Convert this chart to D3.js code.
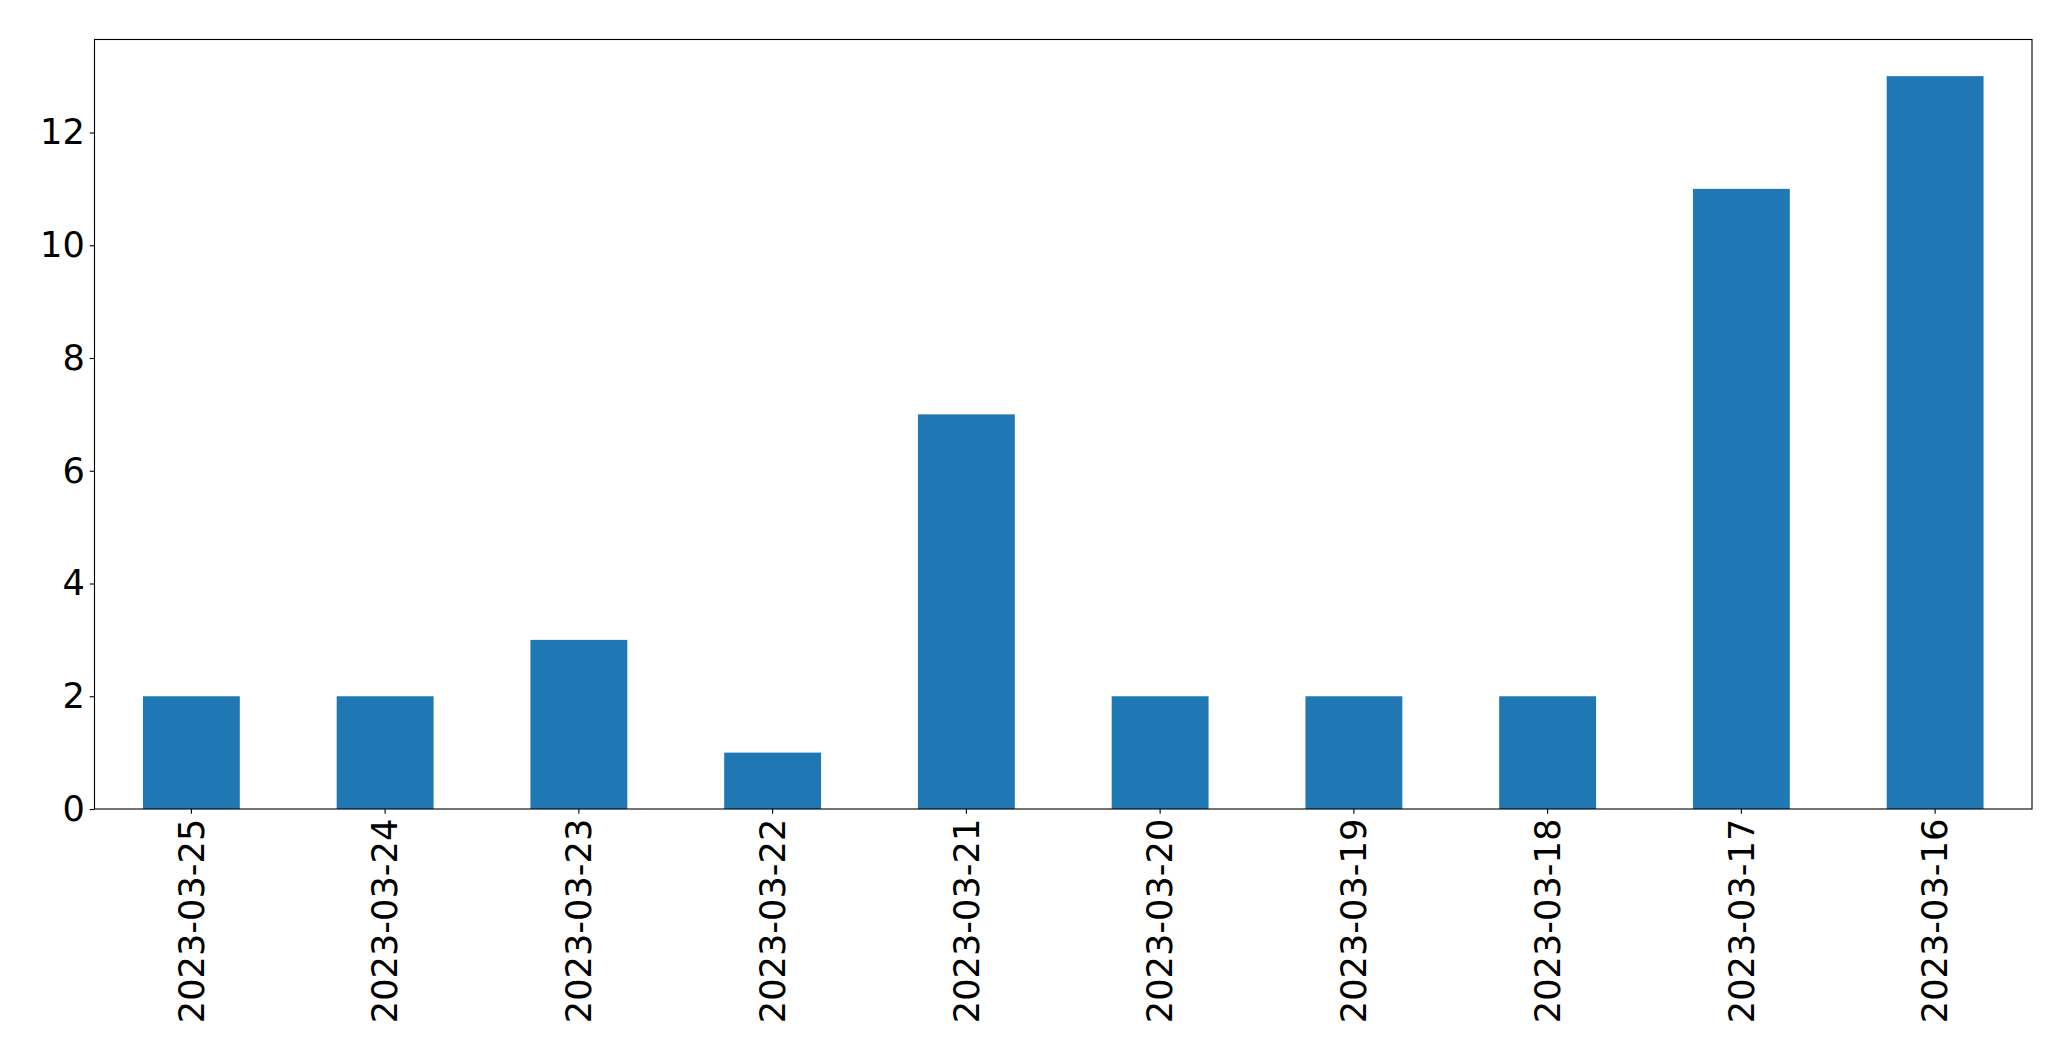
<!DOCTYPE html>
<html>
<head>
<meta charset="utf-8">
<script src="https://cdn.jsdelivr.net/npm/d3@7/dist/d3.min.js"></script>
<style>
  html, body { margin: 0; padding: 0; background: #fff; }
  svg { display: block; }
</style>
</head>
<body>
<script>
const categories = ["2023-03-25","2023-03-24","2023-03-23","2023-03-22","2023-03-21","2023-03-20","2023-03-19","2023-03-18","2023-03-17","2023-03-16"];
const values = [2, 2, 3, 1, 7, 2, 2, 2, 11, 13];
const yTicks = [0, 2, 4, 6, 8, 10, 12];

const W = 2071, H = 1061;
const margin = { left: 94.5, top: 39.5, right: W - 2032, bottom: H - 809 };
const iw = W - margin.left - margin.right;
const ih = H - margin.top - margin.bottom;
const fontSize = 35.2;
const tickLen = 4.86, pad = 4.86;

const svg = d3.select("body").append("svg").attr("width", W).attr("height", H);
const g = svg.append("g").attr("transform", `translate(${margin.left},${margin.top})`);

const x = d3.scaleBand().domain(categories).range([0, iw]).paddingInner(0.5).paddingOuter(0.25);
const y = d3.scaleLinear().domain([0, d3.max(values) * 1.05]).range([ih, 0]);

g.selectAll("rect.bar").data(values).join("rect")
  .attr("class", "bar")
  .attr("x", (d, i) => x(categories[i]))
  .attr("width", x.bandwidth())
  .attr("y", d => y(d))
  .attr("height", d => y(0) - y(d))
  .attr("fill", "#1f77b4");

const font = "'DejaVu Sans', sans-serif";

const yAxis = g.append("g")
  .call(d3.axisLeft(y).tickValues(yTicks).tickSize(tickLen).tickPadding(pad).tickFormat(d3.format("d")));
yAxis.select(".domain").remove();
yAxis.selectAll("line").attr("stroke", "#000").attr("stroke-width", 1.1);
yAxis.selectAll("text").attr("font-family", font).attr("font-size", fontSize).attr("fill", "#000");

const xAxis = g.append("g").attr("transform", `translate(0,${ih})`)
  .call(d3.axisBottom(x).tickSize(tickLen).tickPadding(pad));
xAxis.select(".domain").remove();
xAxis.selectAll("line").attr("stroke", "#000").attr("stroke-width", 1.1);
xAxis.selectAll("text")
  .attr("font-family", font).attr("font-size", fontSize).attr("fill", "#000")
  .attr("transform", `translate(0,${tickLen + pad}) rotate(-90)`)
  .attr("x", 0).attr("y", 0).attr("dy", "0.35em")
  .attr("text-anchor", "end");

g.append("rect").attr("x", 0).attr("y", 0).attr("width", iw).attr("height", ih)
  .attr("fill", "none").attr("stroke", "#000").attr("stroke-width", 1.1);
</script>
</body>
</html>
